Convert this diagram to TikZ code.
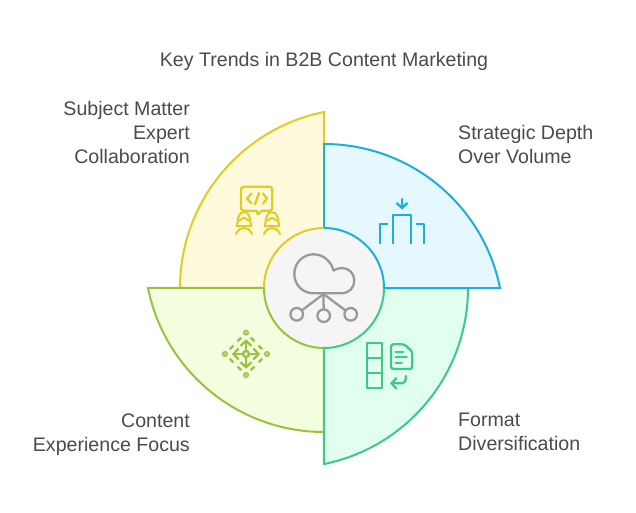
\documentclass[tikz,border=0pt]{standalone}
\usepackage{fontspec}
\setmainfont{Liberation Sans}
\usetikzlibrary{arrows.meta}
\definecolor{inkgray}{HTML}{4A4A4A}
\definecolor{hubgray}{HTML}{999999}
\definecolor{hubfill}{HTML}{F5F5F5}
\definecolor{yellowline}{HTML}{E2CB22}
\definecolor{yellowfill}{HTML}{FFFADB}
\definecolor{blueline}{HTML}{1EAEDB}
\definecolor{bluefill}{HTML}{E6F8FF}
\definecolor{tealline}{HTML}{3CC98B}
\definecolor{tealfill}{HTML}{E0FFEE}
\definecolor{greenline}{HTML}{9BC23C}
\definecolor{greenfill}{HTML}{F3FFDE}
\tikzset{
  sector/.style={line width=2pt,line join=round},
  icon/.style={line width=2.3pt,line join=round,line cap=round},
  txt/.style={text=inkgray,font=\fontsize{19.6}{24}\selectfont,inner sep=0pt},
  dot/.style={circle,draw,inner sep=0pt,minimum size=#1},
  dashside/.style={icon,greenline,line cap=butt,dash pattern=on 5.2pt off 5.9pt,shorten <=3.8pt,shorten >=3.8pt}
}
\begin{document}
\begin{tikzpicture}[x=1pt,y=-1pt,>={Straight Barb[length=5pt,width=11pt]}]
\useasboundingbox (0,0) rectangle (636,513);
\pgfmathsetmacro\rarc{179.6}
\coordinate (hub) at (324,288);
\node[txt] (title) at (324,61.7) {Key Trends in B2B Content Marketing};
% sectors
\draw[sector,yellowline,fill=yellowfill] (hub) -- (180,288) arc[start angle=180,end angle=101.4,radius=\rarc pt] -- cycle;
\draw[sector,greenline,fill=greenfill] (hub) -- (324,432) arc[start angle=-90,end angle=-168.6,radius=\rarc pt] -- cycle;
\draw[sector,tealline,fill=tealfill] (hub) -- (468,288) arc[start angle=0,end angle=-78.6,radius=\rarc pt] -- cycle;
\draw[sector,blueline,fill=bluefill] (hub) -- (324,144) arc[start angle=90,end angle=11.4,radius=\rarc pt] -- cycle;
% hub
\fill[hubfill] (hub) circle[radius=60pt];
\draw[sector,yellowline] (264,288) arc[start angle=180,end angle=90,radius=60pt];
\draw[sector,blueline] (324,228) arc[start angle=90,end angle=0,radius=60pt];
\draw[sector,tealline] (384,288) arc[start angle=0,end angle=-90,radius=60pt];
\draw[sector,greenline] (324,348) arc[start angle=-90,end angle=-180,radius=60pt];
% cloud
\draw[icon,hubgray] (313.5,293.3) -- (342,293.3) .. controls (349,293.3) and (354.3,287.5) .. (354.3,280.5)
  .. controls (354.3,273.5) and (349,268) .. (342,268) .. controls (339,268) and (336,269) .. (333.5,270.5)
  .. controls (331,261) and (323,254.3) .. (313.5,254.3) .. controls (303,254.3) and (294.3,263) .. (294.3,274)
  .. controls (294.3,285) and (303,293.3) .. (313.5,293.3);
\coordinate (stem) at (323.5,294);
\node[dot=12.6pt,icon,hubgray] (leafa) at (296.7,314.3) {};
\node[dot=12.6pt,icon,hubgray] (leafb) at (323.7,315.7) {};
\node[dot=12.6pt,icon,hubgray] (leafc) at (350.7,314.3) {};
\draw[icon,hubgray] (stem) -- (leafa);
\draw[icon,hubgray] (stem) -- (leafb);
\draw[icon,hubgray] (stem) -- (leafc);
% speech bubble and two people
\draw[icon,yellowline] (243,186.7) -- (270.3,186.7) -- (272.3,188.7) -- (272.3,208.7) -- (270.3,210.7) -- (262,210.7) -- (257.7,214.5) -- (256.7,210.7) -- (243,210.7) -- (241,208.7) -- (241,188.7) -- cycle;
\draw[icon,yellowline] (251.5,193.5) -- (247,198.5) -- (251.5,203.5);
\draw[icon,yellowline] (255,204) -- (259,193);
\draw[icon,yellowline] (263,193.5) -- (267,198.5) -- (263,203.5);
\foreach \px in {244,272} {
  \draw[icon,yellowline,line width=2pt] (\px-7.5,225.5) -- (\px+7.5,225.5);
  \draw[icon,yellowline,line width=2pt] (\px-7,225.5) .. controls (\px-6,222) and (\px-7,212.3) .. (\px,212.3) .. controls (\px+7,212.3) and (\px+6,222) .. (\px+7,225.5);
  \draw[icon,yellowline,line width=2pt] (\px-5,220.7) -- (\px,217.7) -- (\px+5,220.7);
  \draw[icon,yellowline,line width=2pt] (\px-8,234) .. controls (\px-6,229.5) and (\px-3,228) .. (\px,228) .. controls (\px+3,228) and (\px+6,229.5) .. (\px+8,234);
}
% columns with arrow
\coordinate (dropa) at (402,199);
\coordinate (dropb) at (402,209.5);
\draw[icon,blueline,->] (dropa) -- (dropb);
\draw[icon,blueline,line cap=butt] (392.7,244.3) -- (392.7,214.7) -- (411.3,214.7) -- (411.3,244.3);
\draw[icon,blueline,line cap=butt] (380,244.3) -- (380,223.7) -- (387.7,223.7);
\draw[icon,blueline,line cap=butt] (424,244.3) -- (424,223.7) -- (416,223.7);
% diamond with four arrows
\node[dot=5pt,greenline,fill=greenline!70,line width=1pt] (dotn) at (246,332.7) {};
\node[dot=5pt,greenline,fill=greenline!70,line width=1pt] (dots) at (246,375) {};
\node[dot=5pt,greenline,fill=greenline!70,line width=1pt] (dotw) at (225,354) {};
\node[dot=5pt,greenline,fill=greenline!70,line width=1pt] (dote) at (267,354) {};
\draw[dashside] (dotn) -- (dotw);
\draw[dashside] (dotn) -- (dote);
\draw[dashside] (dots) -- (dotw);
\draw[dashside] (dots) -- (dote);
\node[dot=6pt,icon,greenline,fill=greenfill] (ring) at (246,354) {};
\coordinate (tipn) at (246,339.3);
\coordinate (tips) at (246,368.7);
\coordinate (tipw) at (232,354);
\coordinate (tipe) at (260,354);
\draw[icon,greenline,->] (ring) -- (tipn);
\draw[icon,greenline,->] (ring) -- (tips);
\draw[icon,greenline,->] (ring) -- (tipw);
\draw[icon,greenline,->] (ring) -- (tipe);
% stack and document
\draw[icon,tealline] (367.3,343.3) rectangle (381.7,388.3);
\draw[icon,tealline] (367.3,358.3) -- (381.7,358.3);
\draw[icon,tealline] (367.3,373.3) -- (381.7,373.3);
\draw[icon,tealline,rounded corners=2.5pt] (391,344.3) -- (404.3,344.3) -- (412.3,351.7) -- (412.3,369) -- (391,369) -- cycle;
\draw[icon,tealline] (395.7,351.7) -- (403.3,351.7);
\draw[icon,tealline] (395.7,357.3) -- (406.7,357.3);
\draw[icon,tealline] (395.7,362.7) -- (401.7,362.7);
\coordinate (backa) at (405.7,376);
\coordinate (backb) at (390,383.3);
\draw[icon,tealline,rounded corners=4pt,->] (backa) |- (backb);
% labels
\node[txt,anchor=north east,align=right] (subject) at (190,100.7) {Subject Matter\\Expert\\Collaboration};
\node[txt,anchor=north west,align=left] (strategic) at (458,124.7) {Strategic Depth\\Over Volume};
\node[txt,anchor=north east,align=right] (content) at (190,413.3) {Content\\Experience Focus};
\node[txt,anchor=north west,align=left] (format) at (458,413.3) {Format\\Diversification};
\end{tikzpicture}
\end{document}
